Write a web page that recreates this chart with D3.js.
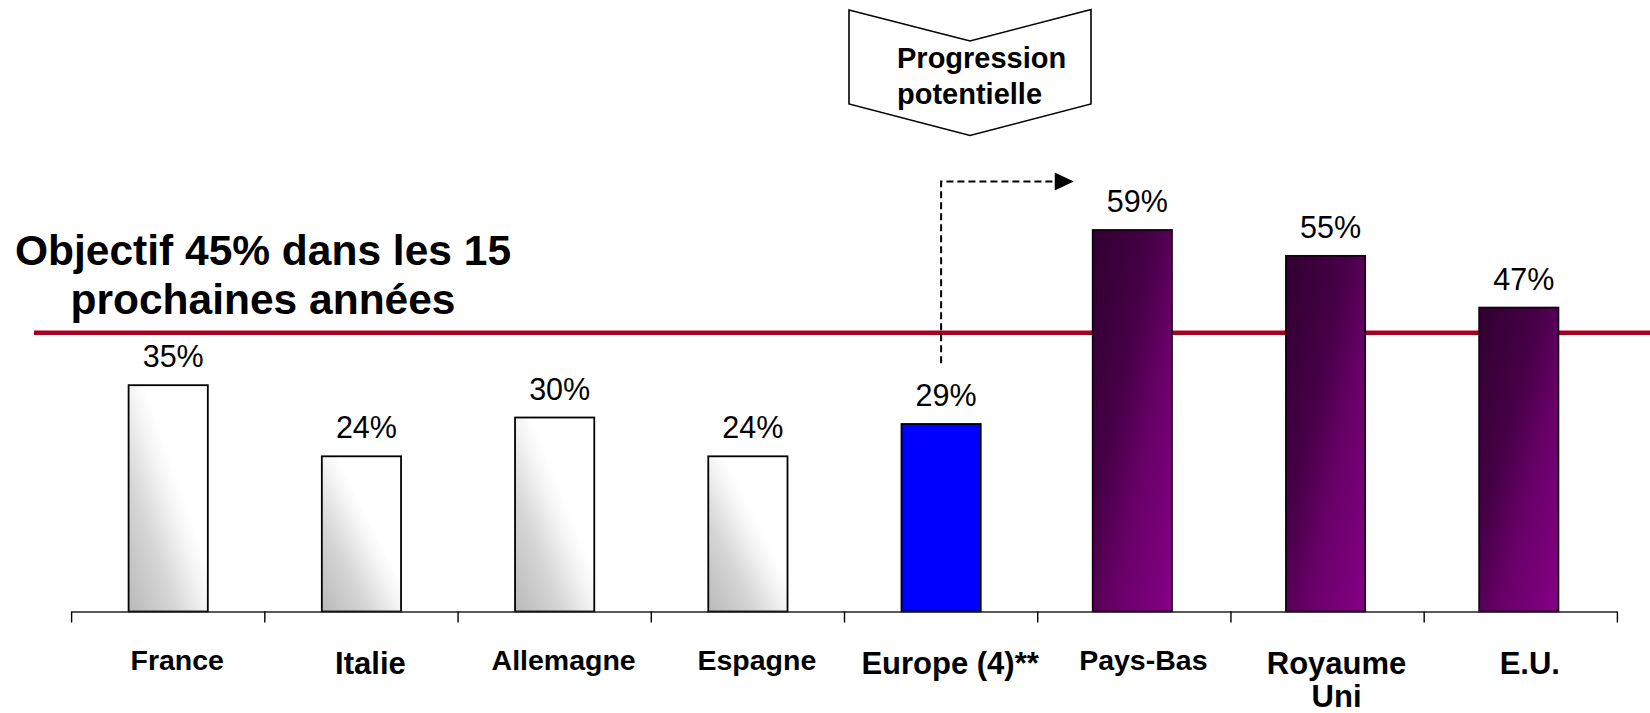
<!DOCTYPE html>
<html>
<head>
<meta charset="utf-8">
<script src="https://cdn.jsdelivr.net/npm/d3@7"></script>
<style>
  html, body { margin: 0; padding: 0; background: #fff; }
  svg { display: block; font-family: "Liberation Sans", Arial, Helvetica, sans-serif; }
</style>
</head>
<body>
<svg id="chart" width="1650" height="713"></svg>
<script>
// ---- Data ----
const categories = ["France", "Italie", "Allemagne", "Espagne", "Europe (4)**", "Pays-Bas", "Royaume Uni", "E.U."];
const values = [35, 24, 30, 24, 29, 59, 55, 47];
const valueLabels = ["35%", "24%", "30%", "24%", "29%", "59%", "55%", "47%"];
const groups = ["autre", "autre", "autre", "autre", "europe", "cible", "cible", "cible"];
const axisLabelLines = [["France"], ["Italie"], ["Allemagne"], ["Espagne"], ["Europe (4)**"], ["Pays-Bas"], ["Royaume", "Uni"], ["E.U."]];
const objectiveValue = 43.1;           // position of the red objective line as drawn
const objectiveText = ["Objectif 45% dans les 15", "prochaines années"];
const calloutText = ["Progression", "potentielle"];
const arrowFrom = 38.4;                 // dashed arrow bottom (value units)
const arrowTo = 66.5;                   // dashed arrow top (value units)

// ---- Layout ----
const svg = d3.select("#chart");
const axisY = 611.5;
const x = d3.scaleBand().domain(categories).range([71.6, 1617.4]).paddingInner(0.59).paddingOuter(0.295);
const y = d3.scaleLinear().domain([0, 59]).range([axisY, 230]);
const step = x.step();

// ---- Gradients ----
const defs = svg.append("defs");
const gWhite = defs.append("linearGradient").attr("id", "gWhite")
  .attr("x1", 0).attr("y1", 1).attr("x2", 1).attr("y2", 0);
[[0, "#b9b9b9"], [0.3, "#d6d6d6"], [0.5, "#f4f4f4"], [0.6, "#ffffff"], [1, "#ffffff"]]
  .forEach(([o, c]) => gWhite.append("stop").attr("offset", o).attr("stop-color", c));
const gPurple = defs.append("linearGradient").attr("id", "gPurple")
  .attr("x1", 0).attr("y1", 0).attr("x2", 1).attr("y2", 1);
[[0, "#300030"], [0.38, "#460046"], [0.62, "#680068"], [1, "#860086"]]
  .forEach(([o, c]) => gPurple.append("stop").attr("offset", o).attr("stop-color", c));

const fillFor = g => g === "europe" ? "#0000ff" : g === "cible" ? "url(#gPurple)" : "url(#gWhite)";
const strokeFor = g => g === "cible" ? "#140012" : "#000";

const data = categories.map((c, i) => ({ c, v: values[i], label: valueLabels[i], g: groups[i], lines: axisLabelLines[i] }));

// ---- Objective line ----
svg.append("line")
  .attr("x1", 34).attr("x2", 1650)
  .attr("y1", y(objectiveValue)).attr("y2", y(objectiveValue))
  .attr("stroke", "#a50021").attr("stroke-width", 4.5);

// ---- Bars ----
svg.append("g").selectAll("rect").data(data).join("rect")
  .attr("x", d => x(d.c) - (d.g === "cible" ? 2 : 0))
  .attr("y", d => y(d.v))
  .attr("width", x.bandwidth())
  .attr("height", d => axisY - y(d.v))
  .attr("fill", d => fillFor(d.g))
  .attr("stroke", d => strokeFor(d.g))
  .attr("stroke-width", 1.8);

// ---- Value labels ----
svg.append("g").selectAll("text").data(data).join("text")
  .attr("x", d => x(d.c) + x.bandwidth() / 2 + 5 - (d.g === "cible" ? 2 : 0))
  .attr("y", d => y(d.v) - 18)
  .attr("text-anchor", "middle")
  .attr("font-size", 30.5)
  .attr("fill", "#000")
  .text(d => d.label);

// ---- Axis ----
const axisG = svg.append("g");
axisG.append("line")
  .attr("x1", x.range()[0]).attr("x2", x.range()[1])
  .attr("y1", axisY + 0.5).attr("y2", axisY + 0.5)
  .attr("stroke", "#222").attr("stroke-width", 1.6);
d3.range(categories.length + 1).forEach(i => {
  const tx = x.range()[0] + i * step;
  axisG.append("line")
    .attr("x1", tx).attr("x2", tx)
    .attr("y1", axisY).attr("y2", axisY + 11)
    .attr("stroke", "#000").attr("stroke-width", 1.4);
});
const largeLabels = new Set(["Italie", "Europe (4)**", "Royaume Uni", "E.U."]);
const catG = axisG.selectAll("text.cat").data(data).join("text")
  .attr("class", "cat")
  .attr("text-anchor", "middle")
  .attr("font-weight", "bold")
  .attr("font-size", d => largeLabels.has(d.c) ? 31 : 28.5)
  .attr("x", d => x(d.c) + x.bandwidth() / 2 + 9)
  .attr("y", d => largeLabels.has(d.c) ? 673.5 : 670);
catG.selectAll("tspan").data(d => d.lines.map((l, i) => ({ l, i, d }))).join("tspan")
  .attr("x", t => x(t.d.c) + x.bandwidth() / 2 + 9)
  .attr("dy", t => t.i === 0 ? 0 : 33)
  .text(t => t.l);

// ---- Objective text ----
const objT = svg.append("text")
  .attr("x", 263).attr("y", 265)
  .attr("text-anchor", "middle")
  .attr("font-weight", "bold").attr("font-size", 42.5).attr("fill", "#000");
objT.selectAll("tspan").data(objectiveText).join("tspan")
  .attr("x", 263).attr("dy", (d, i) => i === 0 ? 0 : 49)
  .text(d => d);

// ---- Dashed arrow ----
const ax = x("Europe (4)**") + x.bandwidth() / 2;
const tipX = x("Pays-Bas") - 21;
svg.append("path")
  .attr("d", `M${ax},${y(arrowFrom)} L${ax},${y(arrowTo)} L${tipX - 19},${y(arrowTo)}`)
  .attr("fill", "none").attr("stroke", "#000").attr("stroke-width", 2)
  .attr("stroke-dasharray", "7,4");
svg.append("path")
  .attr("d", `M${tipX - 19},${y(arrowTo) - 9} L${tipX},${y(arrowTo)} L${tipX - 19},${y(arrowTo) + 9} Z`)
  .attr("fill", "#000");

// ---- Callout chevron ----
const cx = 970, left = 849, right = 1091;
svg.append("path")
  .attr("d", `M${left},10 L${cx},41 L${right},9.5 L${right},104 L${cx},135.5 L${left},104 Z`)
  .attr("fill", "#fff").attr("stroke", "#000").attr("stroke-width", 1.6);
const cT = svg.append("text")
  .attr("x", 897).attr("y", 67.5)
  .attr("font-weight", "bold").attr("font-size", 29).attr("fill", "#000");
cT.selectAll("tspan").data(calloutText).join("tspan")
  .attr("x", 897).attr("dy", (d, i) => i === 0 ? 0 : 36)
  .text(d => d);
</script>
</body>
</html>
